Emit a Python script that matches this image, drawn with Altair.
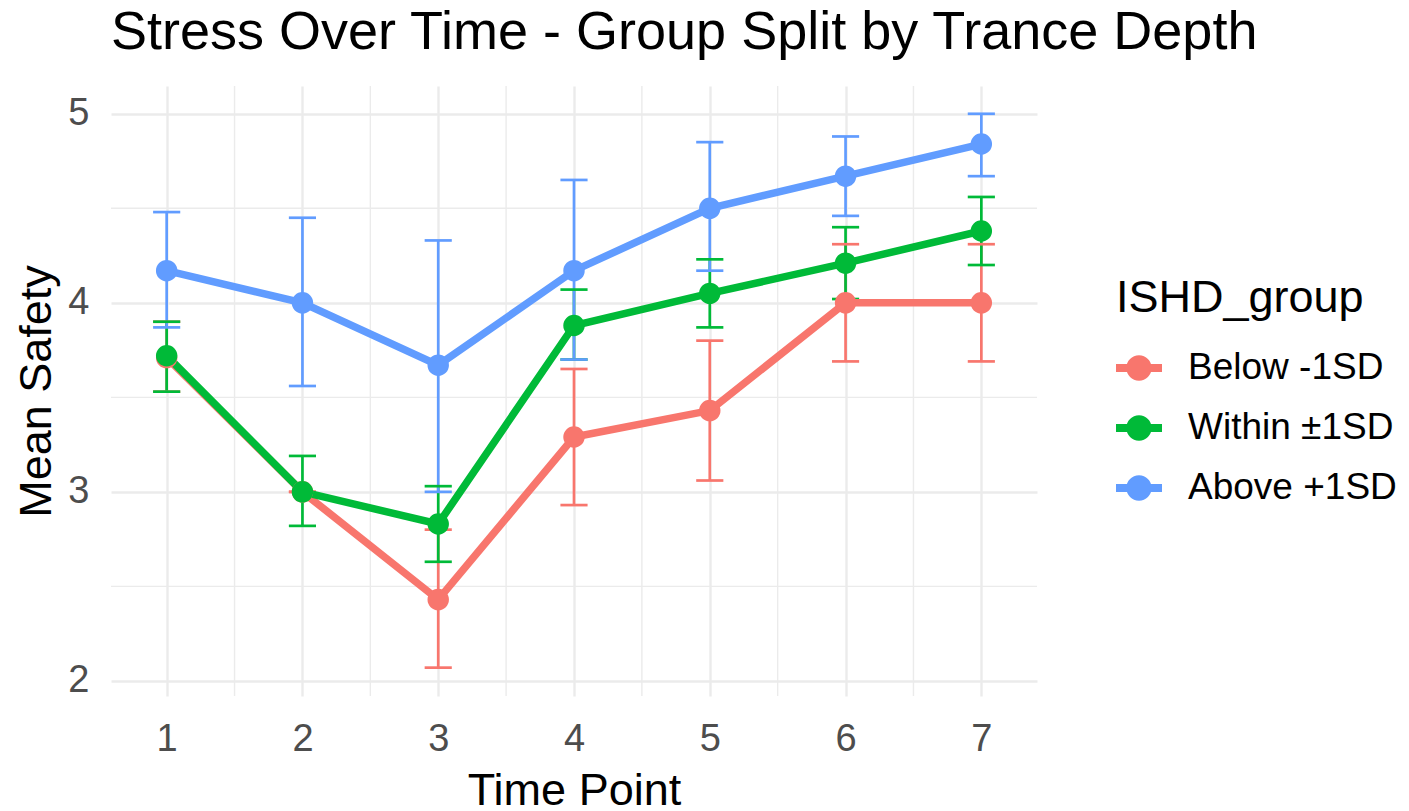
import altair as alt
import pandas as pd

time_points = [1, 2, 3, 4, 5, 6, 7]
groups = ["Below -1SD", "Within ±1SD", "Above +1SD"]
colors = ["#F8766D", "#00BA38", "#619CFF"]

below_mean = [3.71, 3.00, 2.43, 3.29, 3.43, 4.00, 4.00]
below_lo = [3.53, 3.00, 2.07, 2.93, 3.06, 3.69, 3.69]
below_hi = [3.90, 3.00, 2.80, 3.65, 3.80, 4.31, 4.31]

within_mean = [3.72, 3.00, 2.83, 3.88, 4.05, 4.21, 4.38]
within_lo = [3.53, 2.82, 2.63, 3.70, 3.87, 4.02, 4.20]
within_hi = [3.90, 3.19, 3.03, 4.07, 4.23, 4.40, 4.56]

above_mean = [4.17, 4.00, 3.67, 4.17, 4.50, 4.67, 4.84]
above_lo = [3.87, 3.56, 3.00, 3.70, 4.17, 4.46, 4.67]
above_hi = [4.48, 4.45, 4.33, 4.65, 4.85, 4.88, 5.00]

minor_x = [1.5, 2.5, 3.5, 4.5, 5.5, 6.5]
minor_y = [2.5, 3.5, 4.5]
y_ticks = [2, 3, 4, 5]

rows = []
for g, m, lo, hi in [
    (groups[0], below_mean, below_lo, below_hi),
    (groups[1], within_mean, within_lo, within_hi),
    (groups[2], above_mean, above_lo, above_hi),
]:
    for i, t in enumerate(time_points):
        rows.append({"time": t, "group": g, "mean": m[i], "lo": lo[i], "hi": hi[i]})
df = pd.DataFrame(rows)

FONT = "Liberation Sans"
GRID = "#EBEBEB"

x_scale = alt.Scale(domain=[0.59, 7.41], nice=False, zero=False)
y_scale = alt.Scale(domain=[1.92, 5.147], nice=False, zero=False)
color_scale = alt.Scale(domain=groups, range=colors)

x_axis = alt.Axis(values=time_points, grid=True, gridColor=GRID, gridWidth=2.4,
                  domain=False, ticks=False, tickSize=0, labelFontSize=38,
                  labelColor="#4D4D4D", labelFont=FONT, labelPadding=24,
                  titleFontSize=45, titleFont=FONT, titleColor="black",
                  titleFontWeight="normal", titlePadding=10, format="d")
y_axis = alt.Axis(values=y_ticks, grid=True, gridColor=GRID, gridWidth=2.4,
                  domain=False, ticks=False, tickSize=0, labelFontSize=38,
                  labelColor="#4D4D4D", labelFont=FONT, labelPadding=22,
                  titleFontSize=45, titleFont=FONT, titleColor="black",
                  titleFontWeight="normal", titlePadding=8, format="d")

X_T = "Time Point"
Y_T = "Mean Safety"

def xenc(field):
    return alt.X(field, type="quantitative", scale=x_scale, axis=x_axis, title=X_T)

def yenc(field):
    return alt.Y(field, type="quantitative", scale=y_scale, axis=y_axis, title=Y_T)

minor_v = alt.Chart(pd.DataFrame({"time": minor_x})).mark_rule(
    color=GRID, strokeWidth=1.4).encode(x=xenc("time"))
minor_h = alt.Chart(pd.DataFrame({"mean": minor_y})).mark_rule(
    color=GRID, strokeWidth=1.4).encode(y=yenc("mean"))

base = alt.Chart(df)
col_nolegend = alt.Color("group:N", scale=color_scale, legend=None)

stems = base.mark_rule(strokeWidth=2.7).encode(
    x=xenc("time"), y=yenc("lo"), y2="hi:Q", color=col_nolegend)

caps = base.transform_fold(["lo", "hi"], as_=["which", "val"]).transform_calculate(
    xl="datum.time - 0.1", xr="datum.time + 0.1"
).mark_rule(strokeWidth=2.7).encode(
    x=xenc("xl"), x2="xr:Q", y=yenc("val"), color=col_nolegend)

lines = base.mark_line(strokeWidth=7.5).encode(
    x=xenc("time"), y=yenc("mean"), color=col_nolegend,
    order=alt.Order("time:Q"))

sym = ("M-1,-0.17L1,-0.17L1,0.17L-1,0.17Z "
       "M-0.55,0A0.55,0.55,0,1,1,0.55,0A0.55,0.55,0,1,1,-0.55,0Z")

points = base.mark_circle(size=460, opacity=1).encode(
    x=xenc("time"), y=yenc("mean"),
    color=alt.Color("group:N", scale=color_scale, sort=groups,
                    legend=alt.Legend(
                        title="ISHD_group", orient="none", legendX=1005, legendY=190,
                        symbolType=sym, symbolSize=2116, symbolStrokeWidth=0,
                        symbolOpacity=1, titleFontSize=45, titleFont=FONT,
                        titleFontWeight="normal", titleColor="black",
                        titlePadding=24, labelFontSize=37, labelFont=FONT,
                        labelColor="black", labelOffset=26, rowPadding=19,
                        labelLimit=400, titleLimit=400)))

chart = alt.layer(minor_v, minor_h, stems, caps, lines, points).resolve_legend(
    color="independent"
).properties(
    width=926, height=610,
    autosize=alt.AutoSizeParams(type="none"),
    padding={"left": 103, "top": 78, "right": 361, "bottom": 112},
    title=alt.TitleParams("Stress Over Time - Group Split by Trance Depth",
                          anchor="start", frame="group", fontSize=54, font=FONT,
                          fontWeight="normal", color="black", offset=25,
                          limit=2000),
    background="white",
).configure_view(stroke=None)

chart.save("out.html", embed_options={"renderer": "svg", "actions": False})
